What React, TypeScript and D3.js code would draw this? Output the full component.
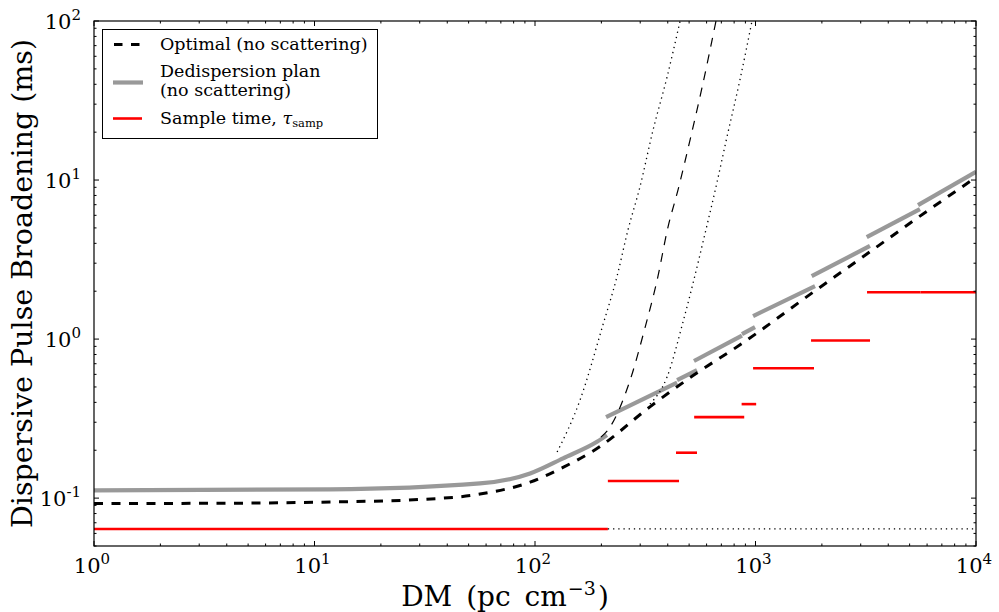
import React from "react";
import * as d3 from "d3";

// ---- Data ----
// Optimal broadening (no scattering), black thick dashed
const optimalDM = [1, 3, 11.8, 30, 56.3, 95, 134, 191, 332, 521, 851, 1823, 3305, 5385, 10000];
const optimalT = [0.0926, 0.0927, 0.0946, 0.098, 0.106, 0.126, 0.156, 0.205, 0.375, 0.59, 0.92, 1.97, 3.54, 5.74, 10.4];

// Dedispersion plan (no scattering), grey segments
const planDM: number[][] = [
  [1, 11.8, 56.3, 95, 134, 191, 212],
  [210, 441],
  [441, 543],
  [526, 868],
  [868, 995],
  [975, 1862],
  [1798, 3305],
  [3194, 5570],
  [5458, 10000],
];
const planT: number[][] = [
  [0.112, 0.1135, 0.1237, 0.143, 0.178, 0.226, 0.249],
  [0.323, 0.532],
  [0.552, 0.638],
  [0.728, 1.052],
  [1.075, 1.19],
  [1.396, 2.15],
  [2.49, 3.85],
  [4.38, 6.57],
  [6.96, 11.27],
];

// Sample time segments, red
const sampStartDM = [1, 214, 436, 527, 865, 975, 1786, 3205, 5600];
const sampEndDM = [214, 450, 543, 889, 1007, 1842, 3307, 5600, 10000];
const sampT = [0.064, 0.128, 0.193, 0.323, 0.39, 0.655, 0.98, 1.97, 1.97];

// Continuation of base sample time (thin dotted)
const baseDotDM = [214, 10000];
const baseDotT = [0.064, 0.064];

// Scattering curves (thin dashed: nominal; thin dotted: bounds)
const scatDM = [199, 214, 270, 316, 358, 401, 445, 505, 573, 662];
const scatT = [0.242, 0.268, 0.552, 1.19, 2.35, 5.06, 8.65, 17.9, 38.5, 100];
const scatLoDM = [126, 160, 203, 235, 264, 299, 343, 397, 455];
const scatLoT = [0.195, 0.413, 1.22, 2.45, 4.85, 9.03, 20.6, 44.4, 100];
const scatHiDM = [332, 397, 469, 521, 591, 668, 742, 850, 964];
const scatHiT = [0.39, 0.577, 1.28, 2.25, 4.64, 9.58, 18.6, 42.6, 100];

const xMajor = [1, 10, 100, 1000, 10000];
const xExp = ["0", "1", "2", "3", "4"];
const yMajor = [0.1, 1, 10, 100];
const yExp = ["-1", "0", "1", "2"];

const legendLabels = ["Optimal (no scattering)", "Dedispersion plan", "(no scattering)", "Sample time, "];

const FONT = "DejaVu Serif";

export default function App() {
  const L = 94, R = 976, T = 21, B = 546;
  const x = d3.scaleLog().domain([1, 1e4]).range([L, R]);
  const y = d3.scaleLog().domain([0.05, 100]).range([B, T]);
  const line = d3
    .line<[number, number]>()
    .x((d) => x(d[0]))
    .y((d) => y(d[1]))
    .curve(d3.curveMonotoneX);
  const path = (dm: number[], t: number[]) => line(dm.map((d, i) => [d, t[i]] as [number, number])) || "";

  const isMajor = (v: number) => Math.abs(Math.log10(v) - Math.round(Math.log10(v))) < 1e-9;
  const xt = x.ticks();
  const yt = y.ticks();

  const tickLines: JSX.Element[] = [];
  xt.forEach((v, i) => {
    const len = isMajor(v) ? 5 : 2.5;
    const px = x(v);
    tickLines.push(<line key={"xb" + i} x1={px} x2={px} y1={B} y2={B - len} stroke="#000" strokeWidth={1} />);
    tickLines.push(<line key={"xt" + i} x1={px} x2={px} y1={T} y2={T + len} stroke="#000" strokeWidth={1} />);
  });
  yt.forEach((v, i) => {
    const len = isMajor(v) ? 5 : 2.5;
    const py = y(v);
    tickLines.push(<line key={"yl" + i} x1={L} x2={L + len} y1={py} y2={py} stroke="#000" strokeWidth={1} />);
    tickLines.push(<line key={"yr" + i} x1={R} x2={R - len} y1={py} y2={py} stroke="#000" strokeWidth={1} />);
  });

  return (
    <svg
      width={999}
      height={612}
      viewBox="0 0 999 612"
      style={{ position: "absolute", left: 0, top: 0, background: "#fff" }}
      fontFamily={FONT}
    >
      <rect x={0} y={0} width={999} height={612} fill="#fff" />
      <defs>
        <clipPath id="plotclip">
          <rect x={L} y={T} width={R - L} height={B - T} />
        </clipPath>
      </defs>

      <g clipPath="url(#plotclip)">
        {/* red sample time */}
        {sampT.map((t, i) => (
          <line
            key={"r" + i}
            x1={x(sampStartDM[i])}
            x2={x(sampEndDM[i])}
            y1={y(t)}
            y2={y(t)}
            stroke="#ff0000"
            strokeWidth={2.6}
          />
        ))}
        <path d={path(baseDotDM, baseDotT)} fill="none" stroke="#000" strokeWidth={1.3} strokeDasharray="1.3 3.9" />
        {/* grey plan */}
        {planDM.map((dm, i) => (
          <path key={"g" + i} d={path(dm, planT[i])} fill="none" stroke="#999999" strokeWidth={4.2} />
        ))}
        {/* optimal */}
        <path d={path(optimalDM, optimalT)} fill="none" stroke="#000" strokeWidth={3} strokeDasharray="9 8.5" />
        {/* scattering */}
        <path d={path(scatDM, scatT)} fill="none" stroke="#000" strokeWidth={1.2} strokeDasharray="9 8" />
        <path d={path(scatLoDM, scatLoT)} fill="none" stroke="#000" strokeWidth={1.3} strokeDasharray="1.3 3.9" />
        <path d={path(scatHiDM, scatHiT)} fill="none" stroke="#000" strokeWidth={1.3} strokeDasharray="1.3 3.9" />
      </g>

      {/* frame and ticks */}
      {tickLines}
      <rect x={L} y={T} width={R - L} height={B - T} fill="none" stroke="#000" strokeWidth={1.2} />

      {/* x tick labels */}
      {xMajor.map((v, i) => (
        <text key={"xl" + i} x={x(v) - 2} y={573} textAnchor="middle" fontSize={21} fill="#000">
          10
          <tspan fontSize={15} dy={-9}>
            {xExp[i]}
          </tspan>
        </text>
      ))}
      {/* y tick labels */}
      {yMajor.map((v, i) => (
        <text key={"yl" + i} x={81} y={y(v) + 8} textAnchor="end" fontSize={21} fill="#000">
          10
          <tspan fontSize={15} dy={-9}>
            {yExp[i]}
          </tspan>
        </text>
      ))}

      {/* axis labels */}
      <text x={505} y={606} textAnchor="middle" fontSize={28} fill="#000" wordSpacing={5}>
        DM (pc cm
        <tspan fontSize={19} dy={-11} dx={1}>
          −3
        </tspan>
        <tspan dy={11} dx={2}>)</tspan>
      </text>
      <text
        transform={`translate(32, ${(T + B) / 2}) rotate(-90)`}
        textAnchor="middle"
        fontSize={28.5}
        fill="#000"
      >
        Dispersive Pulse Broadening (ms)
      </text>

      {/* legend */}
      <rect x={102.5} y={29.5} width={275} height={109} fill="#fff" stroke="#000" strokeWidth={1} />
      <line x1={114} x2={141} y1={44.5} y2={44.5} stroke="#000" strokeWidth={3} strokeDasharray="8.5 8.5" />
      <line x1={113} x2={143} y1={82.5} y2={82.5} stroke="#999999" strokeWidth={4.2} />
      <line x1={113} x2={142} y1={118.5} y2={118.5} stroke="#ff0000" strokeWidth={2.6} />
      <text x={160} y={50} fontSize={17.5} fill="#000">
        {legendLabels[0]}
      </text>
      <text x={160} y={77} fontSize={17.5} fill="#000">
        {legendLabels[1]}
      </text>
      <text x={160} y={96} fontSize={17.5} fill="#000">
        {legendLabels[2]}
      </text>
      <text x={160} y={123.5} fontSize={17.5} fill="#000">
        {legendLabels[3]}
        <tspan fontStyle="italic">τ</tspan>
        <tspan fontSize={11.5} dy={3}>
          samp
        </tspan>
      </text>
    </svg>
  );
}
